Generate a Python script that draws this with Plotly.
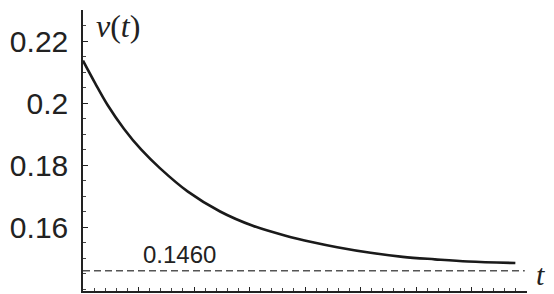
import plotly.graph_objects as go

# curve values
t_vals = [0, 0.22, 0.44, 0.74, 1.05, 1.39, 1.89, 2.47, 3.06, 3.65, 4.14, 4.58, 5.18, 5.76, 6.34, 6.94, 7.79]
v_vals = [0.2137, 0.2064, 0.1995, 0.1917, 0.1850, 0.1790, 0.1715, 0.1651, 0.1605, 0.1573,
          0.1552, 0.1536, 0.1518, 0.1505, 0.1497, 0.1490, 0.1485]

# asymptote
asym_t = [0, 7.96]
asym_v = [0.146, 0.146]
asym_label = "0.1460"

y_tickvals = [0.16, 0.18, 0.2, 0.22]
y_ticktext = ["0.16", "0.18", "0.2", "0.22"]

fig = go.Figure()
fig.add_trace(go.Scatter(x=asym_t, y=asym_v, mode="lines",
                         line=dict(color="#555555", width=1.6, dash="7px,4px"),
                         hoverinfo="skip", showlegend=False))
fig.add_trace(go.Scatter(x=t_vals, y=v_vals, mode="lines", line_shape="spline",
                         line=dict(color="#1a1a1a", width=2.6), showlegend=False))

fig.update_layout(
    width=554, height=294,
    margin=dict(l=65, r=35, t=2, b=11),
    paper_bgcolor="white", plot_bgcolor="white",
    font=dict(family="Liberation Sans, Arial, sans-serif", color="#222222"),
    xaxis=dict(range=[0, 8], showgrid=False, zeroline=False, showline=True,
               linecolor="#222222", linewidth=1.5, ticks="inside", dtick=1, tick0=0,
               ticklen=4, tickcolor="#222222", tickwidth=1, showticklabels=False,
               minor=dict(dtick=0.2, tick0=0, ticks="inside", ticklen=3,
                          tickcolor="#444444", tickwidth=1)),
    yaxis=dict(range=[0.1395, 0.23], showgrid=False, zeroline=False, showline=True,
               linecolor="#222222", linewidth=1.5, ticks="inside", ticklen=5,
               tickcolor="#222222", tickwidth=1, tickvals=y_tickvals, ticktext=y_ticktext,
               tickfont=dict(size=30), ticklabelstandoff=7,
               minor=dict(dtick=0.005, tick0=0.14, ticks="inside", ticklen=3,
                          tickcolor="#444444", tickwidth=1)),
    annotations=[
        dict(x=1.73, y=0.1514, xref="x", yref="y", text=asym_label, showarrow=False,
             xanchor="center", yanchor="middle",
             font=dict(size=24, color="#222222")),
        dict(x=0.079, y=0.942, xref="paper", yref="paper", text="<i>v</i>(<i>t</i>)",
             showarrow=False, xanchor="center", yanchor="middle",
             font=dict(family="Liberation Serif, Times New Roman, serif",
                       size=32, color="#222222")),
        dict(x=1.031, y=0.059, xref="paper", yref="paper", text="<i>t</i>",
             showarrow=False, xanchor="center", yanchor="middle",
             font=dict(family="Liberation Serif, Times New Roman, serif",
                       size=30, color="#222222")),
    ],
)

fig.write_html("out.html")
